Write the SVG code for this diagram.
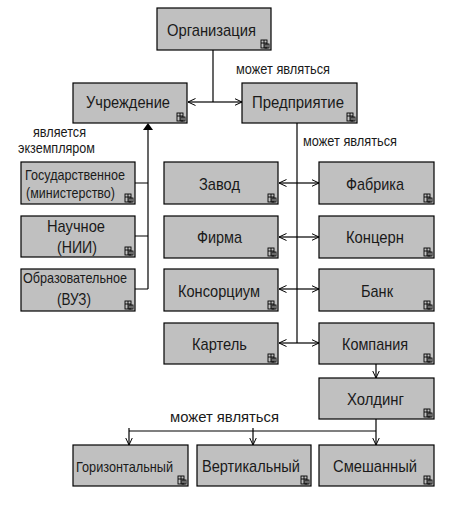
<svg xmlns="http://www.w3.org/2000/svg" xmlns:xlink="http://www.w3.org/1999/xlink" width="462" height="505" viewBox="0 0 462 505">
<style>
.box{fill:#c0c0c0;stroke:#000;stroke-width:1.2}
.t{font-family:"Liberation Sans",Arial,sans-serif;fill:#1a1a1a;font-size:17px}
.s{font-size:15px}
.l{font-family:"Liberation Sans",Arial,sans-serif;fill:#1a1a1a;font-size:14px}
.c{stroke:#000;stroke-width:1.2;fill:none}
.ic{stroke:#000;stroke-width:0.9;fill:none}
</style>
<defs>
<marker id="ch" viewBox="0 0 8 8" refX="7.5" refY="4" markerWidth="8" markerHeight="8" markerUnits="userSpaceOnUse" orient="auto">
<path d="M0,0.5 L7.5,4 L0,7.5" fill="none" stroke="#000" stroke-width="1"/>
</marker>
<g id="icon">
<rect x="0" y="0" width="6" height="8" class="ic"/>
<line x1="0" y1="3" x2="6" y2="3" class="ic"/>
<line x1="3" y1="0" x2="3" y2="8" class="ic"/>
<rect x="4" y="4" width="4" height="4" class="ic" fill="#c0c0c0"/>
</g>
</defs>

<g id="connectors">
<path class="c" d="M213,50 V102"/>
<path class="c" d="M213,102 H188" marker-end="url(#ch)"/>
<path class="c" d="M213,102 H242" marker-end="url(#ch)"/>
<path class="c" d="M148,289 V129"/>
<path d="M148,123 L143,130 L153,130 Z" fill="#000"/>
<path class="c" d="M135,183 H148 M135,236 H148 M135,289 H148"/>
<path class="c" d="M297,123 V343"/>
<path class="c" d="M297,183 H279" marker-end="url(#ch)"/>
<path class="c" d="M297,183 H319" marker-end="url(#ch)"/>
<path class="c" d="M297,237 H279" marker-end="url(#ch)"/>
<path class="c" d="M297,237 H319" marker-end="url(#ch)"/>
<path class="c" d="M297,289 H279" marker-end="url(#ch)"/>
<path class="c" d="M297,289 H319" marker-end="url(#ch)"/>
<path class="c" d="M297,343 H279" marker-end="url(#ch)"/>
<path class="c" d="M297,343 H319" marker-end="url(#ch)"/>
<path class="c" d="M376,364 V378" marker-end="url(#ch)"/>
<path class="c" d="M376,419 V445" marker-end="url(#ch)"/>
<path class="c" d="M129,431 H376"/>
<path class="c" d="M129,428 V445" marker-end="url(#ch)"/>
<path class="c" d="M253,428 V445" marker-end="url(#ch)"/>
<text class="l" x="236" y="74" textLength="94" lengthAdjust="spacingAndGlyphs">может являться</text>
<text class="l" x="303" y="146" textLength="94" lengthAdjust="spacingAndGlyphs">может являться</text>
<text class="l" x="170" y="422" font-size="15.5" textLength="109" lengthAdjust="spacingAndGlyphs">может являться</text>
<text class="l" x="33" y="137" font-size="12" textLength="53" lengthAdjust="spacingAndGlyphs">является</text>
<text class="l" x="18" y="153" font-size="12" textLength="77" lengthAdjust="spacingAndGlyphs">экземпляром</text>
</g>

<g id="org"><rect class="box" x="157" y="8" width="114" height="42"/><text class="t" x="167" y="36" textLength="89" lengthAdjust="spacingAndGlyphs">Организация</text><use xlink:href="#icon" x="261" y="40"/></g>
<g id="uchr"><rect class="box" x="73" y="83" width="114" height="40"/><text class="t" x="86" y="108" textLength="84" lengthAdjust="spacingAndGlyphs">Учреждение</text><use xlink:href="#icon" x="177" y="113"/></g>
<g id="pred"><rect class="box" x="242" y="83" width="115" height="40"/><text class="t" x="252" y="108" textLength="92" lengthAdjust="spacingAndGlyphs">Предприятие</text><use xlink:href="#icon" x="347" y="113"/></g>

<g id="gos"><rect class="box" x="21" y="162" width="114" height="42"/><text class="t s" x="25" y="180" textLength="100" lengthAdjust="spacingAndGlyphs">Государственное</text><text class="t s" x="26" y="198" textLength="89" lengthAdjust="spacingAndGlyphs">(министерство)</text><use xlink:href="#icon" x="125" y="194"/></g>
<g id="nauch"><rect class="box" x="21" y="216" width="114" height="41"/><text class="t" x="47" y="232" textLength="58" lengthAdjust="spacingAndGlyphs">Научное</text><text class="t" x="57" y="253" textLength="40" lengthAdjust="spacingAndGlyphs">(НИИ)</text><use xlink:href="#icon" x="125" y="247"/></g>
<g id="obr"><rect class="box" x="21" y="269" width="114" height="42"/><text class="t s" x="23" y="283" textLength="104" lengthAdjust="spacingAndGlyphs">Образовательное</text><text class="t" x="57" y="305" textLength="34" lengthAdjust="spacingAndGlyphs">(ВУЗ)</text><use xlink:href="#icon" x="125" y="301"/></g>

<g id="zavod"><rect class="box" x="164" y="162" width="114" height="42"/><text class="t" x="199" y="190" textLength="41" lengthAdjust="spacingAndGlyphs">Завод</text><use xlink:href="#icon" x="268" y="194"/></g>
<g id="fabr"><rect class="box" x="319" y="162" width="115" height="42"/><text class="t" x="346" y="190" textLength="58" lengthAdjust="spacingAndGlyphs">Фабрика</text><use xlink:href="#icon" x="424" y="194"/></g>
<g id="firma"><rect class="box" x="164" y="216" width="114" height="42"/><text class="t" x="197" y="243" textLength="45" lengthAdjust="spacingAndGlyphs">Фирма</text><use xlink:href="#icon" x="268" y="248"/></g>
<g id="konc"><rect class="box" x="319" y="216" width="115" height="42"/><text class="t" x="346" y="243" textLength="58" lengthAdjust="spacingAndGlyphs">Концерн</text><use xlink:href="#icon" x="424" y="248"/></g>
<g id="kons"><rect class="box" x="164" y="269" width="114" height="42"/><text class="t" x="178" y="297" textLength="82" lengthAdjust="spacingAndGlyphs">Консорциум</text><use xlink:href="#icon" x="268" y="301"/></g>
<g id="bank"><rect class="box" x="319" y="269" width="115" height="42"/><text class="t" x="361" y="297" textLength="32" lengthAdjust="spacingAndGlyphs">Банк</text><use xlink:href="#icon" x="424" y="301"/></g>
<g id="kart"><rect class="box" x="164" y="323" width="114" height="41"/><text class="t" x="192" y="350" textLength="55" lengthAdjust="spacingAndGlyphs">Картель</text><use xlink:href="#icon" x="268" y="354"/></g>
<g id="komp"><rect class="box" x="319" y="323" width="115" height="41"/><text class="t" x="342" y="350" textLength="66" lengthAdjust="spacingAndGlyphs">Компания</text><use xlink:href="#icon" x="424" y="354"/></g>
<g id="hold"><rect class="box" x="319" y="378" width="115" height="41"/><text class="t" x="347" y="405" textLength="57" lengthAdjust="spacingAndGlyphs">Холдинг</text><use xlink:href="#icon" x="424" y="409"/></g>

<g id="gor"><rect class="box" x="73" y="445" width="115" height="41"/><text class="t s" x="76" y="472" font-size="15.5" textLength="97" lengthAdjust="spacingAndGlyphs">Горизонтальный</text><use xlink:href="#icon" x="178" y="476"/></g>
<g id="vert"><rect class="box" x="197" y="445" width="114" height="41"/><text class="t" x="202" y="472" textLength="98" lengthAdjust="spacingAndGlyphs">Вертикальный</text><use xlink:href="#icon" x="301" y="476"/></g>
<g id="smesh"><rect class="box" x="319" y="445" width="115" height="41"/><text class="t" x="333" y="472" textLength="84" lengthAdjust="spacingAndGlyphs">Смешанный</text><use xlink:href="#icon" x="424" y="476"/></g>
</svg>
